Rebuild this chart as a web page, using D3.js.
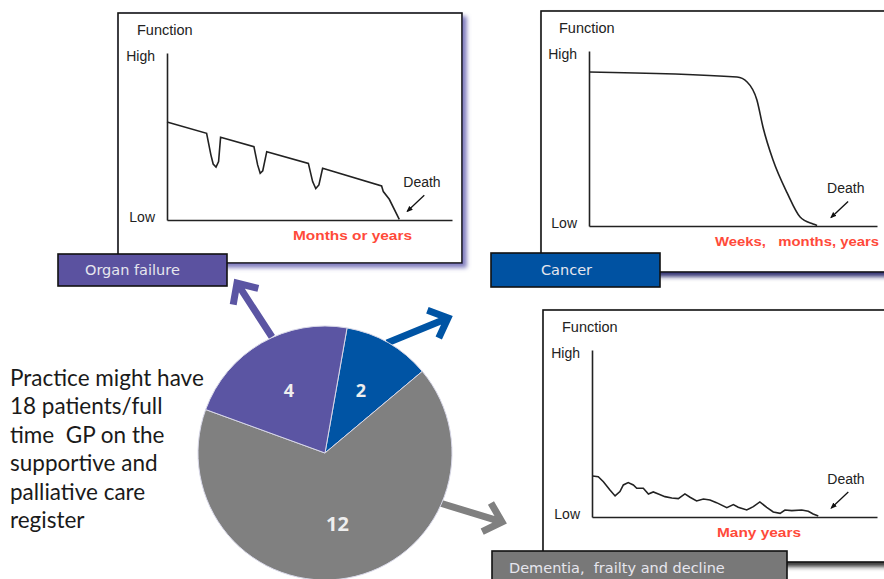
<!DOCTYPE html>
<html>
<head>
<meta charset="utf-8">
<script src="https://cdn.jsdelivr.net/npm/d3@7"></script>
<style>
  body { margin: 0; background: #fff; }
  svg { display: block; }
  text { white-space: pre; }
</style>
</head>
<body>
<svg id="chart" width="884" height="579"></svg>
<script>
// pie: patients per trajectory on the register
const categories = ["Cancer", "Dementia,  frailty and decline", "Organ failure"];
const patients = [2, 12, 4];

// axis ticks of the small trajectory charts
const levelTicks = [0, 100];
const levelLabels = ["Low", "High"];

// trajectories, x = time (0-100), y = function (0 low - 100 high)
const organFailure = [
  [0, 58.7], [13.9, 51.9], [15.4, 39], [16.2, 33.5], [17.2, 31.7], [18.1, 35], [18.8, 49.5],
  [30.5, 43.9], [31.8, 33], [32.7, 28], [33.6, 29.5], [35.0, 40.9],
  [49.6, 33.9], [51.1, 23], [52.2, 18.8], [53.3, 21], [54.6, 31],
  [75.3, 20.4], [75.9, 17], [78.0, 12.4], [81.5, 0.4]
];
const cancer = [
  [0, 88], [51.4, 85.1], [54.9, 82.3], [58.3, 72], [60.4, 56.6], [63.9, 37.7],
  [68.8, 18.9], [73.3, 5.1], [77.8, 1.1], [79.2, 0.3]
];
const dementia = [
  [0.2, 24.6], [2.2, 24.1], [4.0, 21.1], [6.3, 16.2], [8.1, 12.6], [9.8, 15.2], [11.0, 19.2],
  [12.7, 20.6], [14.5, 19.2], [15.7, 17.2], [18.0, 17.2], [19.8, 13.8], [21.5, 15.0], [23.3, 13.8],
  [25.6, 12.2], [28.0, 11.4], [30.3, 11.0], [32.6, 13.8], [34.4, 11.8], [36.7, 9.6], [39.1, 10.8],
  [41.4, 10.2], [43.7, 8.6], [47.3, 5.6], [49.6, 7.4], [51.3, 5.8], [54.3, 4.2], [56.6, 6.2],
  [58.9, 9.0], [61.3, 5.8], [63.6, 3.0], [66.0, 2.2], [67.7, 4.2], [70.1, 3.8], [73.6, 4.2],
  [75.9, 3.4], [77.6, 1.8], [79.4, 0.6]
];

const timeLabels = ["Months or years", "Weeks,   months, years", "Many years"];
const introLines = ["Practice might have", "18 patients/full", "time  GP on the",
  "supportive and", "palliative care", "register"];

const sliceColors = ["#0054a4", "#808080", "#5b55a3"];
const svg = d3.select("#chart");
const defs = svg.append("defs");

function shadow(id, color) {
  const f = defs.append("filter").attr("id", id)
    .attr("x", "-10%").attr("y", "-10%").attr("width", "130%").attr("height", "130%");
  f.append("feDropShadow").attr("dx", 4).attr("dy", 4).attr("stdDeviation", 2)
    .attr("flood-color", color).attr("flood-opacity", 0.9);
}
shadow("sh1", "#7571b8");
shadow("sh2", "#1c1c66");
shadow("sh3", "#222");

defs.append("marker").attr("id", "tip")
  .attr("viewBox", "0 0 10 10").attr("refX", 8).attr("refY", 5)
  .attr("markerWidth", 5).attr("markerHeight", 5).attr("orient", "auto")
  .append("path").attr("d", "M0,1L10,5L0,9z").attr("fill", "#111");

const font = "Liberation Sans, Arial, sans-serif";
const panels = [
  { box: [118, 13, 462, 263], x: [167, 452], y: [220, 53], data: organFailure, curve: d3.curveLinear,
    shadow: "sh1", tag: [58, 254, 169, 32], tagX: 85, tagFill: "#5b52a0", name: categories[2],
    time: timeLabels[0], timeX: 293, timeW: 119, deathX: 4 },
  { box: [541, 11, 905, 272], x: [589, 877], y: [226, 51], data: cancer, curve: d3.curveMonotoneX,
    shadow: "sh2", tag: [491, 253, 169, 34], tagX: 541, tagFill: "#0052a2", name: categories[0],
    time: timeLabels[1], timeX: 715, timeW: 164, deathX: 10 },
  { box: [543, 310, 905, 562], x: [592, 877], y: [517, 350], data: dementia, curve: d3.curveLinear,
    shadow: "sh3", tag: [492, 551, 295, 34], tagX: 509, tagFill: "#787878", name: categories[1],
    time: timeLabels[2], timeX: 717, timeW: 84, deathX: 9 }
];

panels.forEach(p => {
  const g = svg.append("g");
  const [x0, y0, x1, y1] = p.box;
  g.append("rect").attr("x", x0).attr("y", y0).attr("width", x1 - x0).attr("height", y1 - y0)
    .attr("fill", "#fff").attr("stroke", "#111").attr("stroke-width", 1.6)
    .attr("filter", `url(#${p.shadow})`);

  const x = d3.scaleLinear().domain([0, 100]).range(p.x);
  const y = d3.scaleLinear().domain([0, 100]).range(p.y);

  const yAxis = g.append("g").attr("transform", `translate(${p.x[0]},0)`)
    .call(d3.axisLeft(y).tickValues(levelTicks).tickFormat((d, i) => levelLabels[i])
      .tickSize(0).tickPadding(12));
  yAxis.selectAll("text").attr("font-family", font)
    .attr("font-size", 14).attr("fill", "#222")
    .attr("dy", (d, i) => i === 0 ? "0.1em" : "0.5em");
  g.append("g").attr("transform", `translate(0,${p.y[0]})`)
    .call(d3.axisBottom(x).tickValues([]).tickSizeOuter(0));
  g.selectAll(".domain").attr("stroke", "#222").attr("stroke-width", 1.6);

  g.append("text").attr("x", p.x[0] - 30).attr("y", p.y[1] - 18)
    .attr("font-family", font).attr("font-size", 14.5)
    .attr("fill", "#222").text("Function");

  g.append("path").datum(p.data)
    .attr("d", d3.line().x(d => x(d[0])).y(d => y(d[1])).curve(p.curve))
    .attr("fill", "none").attr("stroke", "#222").attr("stroke-width", 1.6);

  // death marker
  const last = p.data[p.data.length - 1];
  const dx = x(last[0]), dy = y(last[1]);
  g.append("text").attr("x", dx + p.deathX).attr("y", dy - 32)
    .attr("font-family", font).attr("font-size", 14)
    .attr("fill", "#222").text("Death");
  g.append("line").attr("x1", dx + p.deathX + 21).attr("y1", dy - 24)
    .attr("x2", dx + p.deathX + 4).attr("y2", dy - 8)
    .attr("stroke", "#111").attr("stroke-width", 1.3).attr("marker-end", "url(#tip)");

  g.append("text").attr("x", p.timeX).attr("y", p.y[0] + 20)
    .attr("font-family", font).attr("font-weight", "bold")
    .attr("font-size", 13.5).attr("fill", "#ff4a3a")
    .attr("textLength", p.timeW).attr("lengthAdjust", "spacingAndGlyphs")
    .text(p.time);

  const [tx, ty, tw, th] = p.tag;
  g.append("rect").attr("x", tx).attr("y", ty).attr("width", tw).attr("height", th)
    .attr("fill", p.tagFill).attr("stroke", "#111").attr("stroke-width", 1.6);
  g.append("text").attr("x", p.tagX).attr("y", ty + th / 2 + 5)
    .attr("font-family", "'DejaVu Sans', Verdana, sans-serif").attr("font-size", 14.5)
    .attr("fill", "#e6e6ee").text(p.name);
});

// pie
const cx = 325, cy = 453, r = 127;
const pie = d3.pie().sort(null).startAngle(10 * Math.PI / 180).endAngle(370 * Math.PI / 180);
const arcs = pie(patients);
const arc = d3.arc().innerRadius(0).outerRadius(r);
const labelArc = d3.arc().innerRadius(72).outerRadius(72);
const color = d3.scaleOrdinal(categories, sliceColors);

// arrows leaving the pie: [start x, start y, tip x, tip y] relative to pie centre
const arrows = [
  { c: categories[0], p: [62, -110, 123, -135] },
  { c: categories[1], p: [115, 50, 177, 69] },
  { c: categories[2], p: [-53, -116, -88, -170] }
];
const pg = svg.append("g").attr("transform", `translate(${cx},${cy})`);
arrows.forEach(a => {
  const [sx, sy, ex, ey] = a.p;
  const ang = Math.atan2(ey - sy, ex - sx);
  const L = 22, spread = Math.PI / 4.2;
  const p1 = [ex - L * Math.cos(ang - spread), ey - L * Math.sin(ang - spread)];
  const p2 = [ex - L * Math.cos(ang + spread), ey - L * Math.sin(ang + spread)];
  pg.append("path")
    .attr("d", `M${sx},${sy}L${ex - 2 * Math.cos(ang)},${ey - 2 * Math.sin(ang)}M${p1}L${ex},${ey}L${p2}`)
    .attr("fill", "none").attr("stroke", color(a.c)).attr("stroke-width", 7)
    .attr("stroke-linejoin", "miter");
});

pg.selectAll("path.slice").data(arcs).join("path").attr("class", "slice")
  .attr("d", arc).attr("fill", (d, i) => color(categories[i]))
  .attr("stroke", "#d8d8e8").attr("stroke-width", 1);

pg.selectAll("text").data(arcs).join("text")
  .attr("transform", d => `translate(${labelArc.centroid(d)})`)
  .attr("text-anchor", "middle").attr("dy", "0.35em")
  .attr("font-family", "Open Sans, sans-serif").attr("font-weight", "bold")
  .attr("font-size", d => d.data > 9 ? 20 : 18).attr("fill", "#eeeeee")
  .text(d => d.data);

// side note
svg.append("g").selectAll("text").data(introLines).join("text")
  .attr("x", 10).attr("y", (d, i) => 386 + i * 28.4)
  .attr("font-family", "Lato, sans-serif").attr("font-size", 22.5).attr("fill", "#1a1a1a")
  .text(d => d);
</script>
</body>
</html>
